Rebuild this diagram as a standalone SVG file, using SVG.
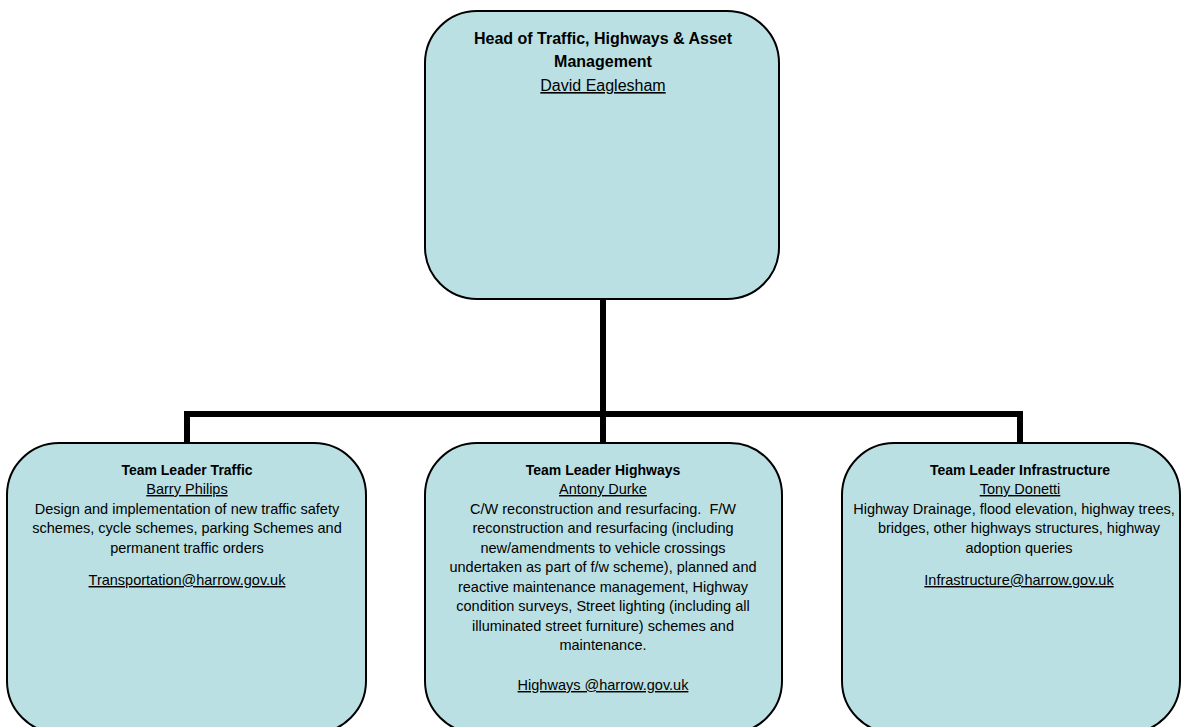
<svg xmlns="http://www.w3.org/2000/svg" width="1183" height="727" viewBox="0 0 1183 727">
<style>
.box{fill:#BBE0E3;stroke:#000;stroke-width:2}
.c{fill:none;stroke:#000;stroke-width:6;stroke-linecap:butt}
text{font-family:"Liberation Sans",Arial,sans-serif;fill:#000;text-anchor:middle}
.t{font-size:14.5px}
.b{font-weight:bold}
.tb{font-size:14px}
.u{text-decoration:underline}
.h{font-size:16px}
</style>
<g id="connectors">
<path class="c" d="M603 299V414M184 414H1023M187 411V443M603 414V443M1020 411V443"/>
</g>
<g id="head">
<rect class="box" x="425" y="11" width="354" height="288" rx="52"/>
<text class="h b" x="603" y="44">Head of Traffic, Highways &amp; Asset</text>
<text class="h b" x="603" y="67">Management</text>
<text class="h u" x="603" y="91">David Eaglesham</text>
</g>
<g id="traffic">
<rect class="box" x="7" y="443" width="359" height="290" rx="52"/>
<text class="tb b" x="187" y="475">Team Leader Traffic</text>
<text class="t u" x="187" y="494">Barry Philips</text>
<text class="t" x="187" y="514">Design and implementation of new traffic safety</text>
<text class="t" x="187" y="533">schemes, cycle schemes, parking Schemes and</text>
<text class="t" x="187" y="553">permanent traffic orders</text>
<text class="t u" x="187" y="585">Transportation@harrow.gov.uk</text>
</g>
<g id="highways">
<rect class="box" x="425" y="443" width="357" height="290" rx="52"/>
<text class="tb b" x="603" y="475">Team Leader Highways</text>
<text class="t u" x="603" y="494">Antony Durke</text>
<text class="t" x="603" y="514" xml:space="preserve">C/W reconstruction and resurfacing.  F/W</text>
<text class="t" x="603" y="533">reconstruction and resurfacing (including</text>
<text class="t" x="603" y="553">new/amendments to vehicle crossings</text>
<text class="t" x="603" y="572">undertaken as part of f/w scheme), planned and</text>
<text class="t" x="603" y="592">reactive maintenance management, Highway</text>
<text class="t" x="603" y="611">condition surveys, Street lighting (including all</text>
<text class="t" x="603" y="631">illuminated street furniture) schemes and</text>
<text class="t" x="603" y="650">maintenance.</text>
<text class="t u" x="603" y="690">Highways @harrow.gov.uk</text>
</g>
<g id="infrastructure">
<rect class="box" x="842" y="443" width="338" height="290" rx="52"/>
<text class="tb b" x="1020" y="475">Team Leader Infrastructure</text>
<text class="t u" x="1020" y="494">Tony Donetti</text>
<text class="t" x="1014" y="514">Highway Drainage, flood elevation, highway trees,</text>
<text class="t" x="1019" y="533">bridges, other highways structures, highway</text>
<text class="t" x="1019" y="553">adoption queries</text>
<text class="t u" x="1019" y="585">Infrastructure@harrow.gov.uk</text>
</g>
</svg>
